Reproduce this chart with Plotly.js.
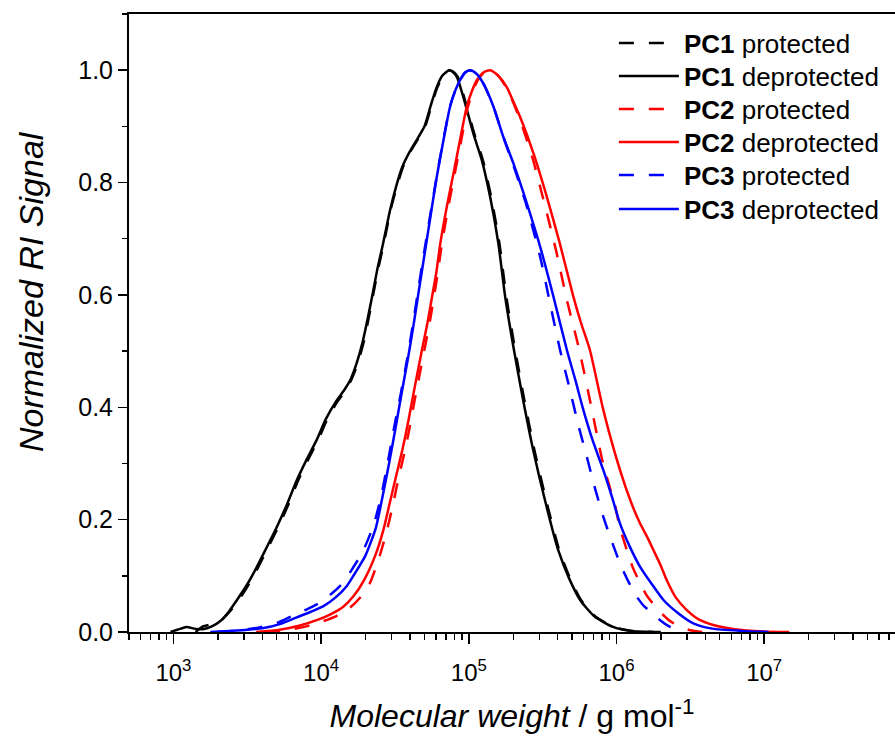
<!DOCTYPE html>
<html>
<head>
<meta charset="utf-8">
<script src="https://cdn.plot.ly/plotly-3.0.1.min.js"></script>
<style>html,body{margin:0;padding:0;background:#fff;overflow:hidden}#chart{width:895px;height:738px}</style>
</head>
<body>
<div id="chart"></div>
<script>
// log10 of molecular weight (g/mol) and normalized RI signal
const pc1DepLogM = [2.98,3.05,3.09,3.14,3.20,3.26,3.32,3.38,3.43,3.50,3.565,3.63,3.70,3.77,3.835,3.90,3.97,4.03,4.10,4.16,4.20,4.24,4.28,4.34,4.38,4.42,4.467,4.51,4.55,4.60,4.65,4.70,4.74,4.78,4.82,4.867,4.89,4.919,4.975,5.031,5.088,5.144,5.20,5.246,5.307,5.37,5.436,5.52,5.605,5.68,5.754,5.85,5.977,6.10,6.30];
const pc1DepY    = [0,0.006,0.009,0.006,0.005,0.010,0.020,0.038,0.057,0.085,0.116,0.150,0.187,0.228,0.270,0.306,0.342,0.378,0.410,0.432,0.450,0.478,0.515,0.590,0.645,0.692,0.751,0.795,0.828,0.855,0.877,0.900,0.935,0.968,0.990,1.0,0.997,0.988,0.941,0.887,0.840,0.775,0.692,0.597,0.500,0.410,0.324,0.230,0.146,0.095,0.057,0.028,0.009,0.002,0];

const pc1ProLogM = [3.15,3.20,3.26,3.32,3.38,3.44,3.51,3.575,3.64,3.71,3.78,3.845,3.91,3.98,4.04,4.11,4.17,4.21,4.25,4.29,4.345,4.385,4.425,4.47,4.515,4.555,4.605,4.655,4.705,4.745,4.785,4.825,4.87,4.895,4.925,4.98,5.037,5.095,5.151,5.207,5.254,5.315,5.378,5.444,5.528,5.612,5.687,5.76,5.855,5.98,6.10,6.25];
const pc1ProY    = [0,0.010,0.014,0.020,0.036,0.056,0.085,0.116,0.150,0.187,0.228,0.270,0.306,0.342,0.378,0.410,0.432,0.452,0.480,0.518,0.590,0.645,0.692,0.751,0.795,0.828,0.855,0.877,0.900,0.935,0.968,0.990,1.0,0.997,0.988,0.941,0.887,0.840,0.775,0.692,0.597,0.500,0.410,0.324,0.230,0.146,0.095,0.057,0.028,0.009,0.002,0];

const pc2DepLogM = [3.56,3.72,3.85,3.97,4.06,4.15,4.22,4.29,4.365,4.42,4.465,4.51,4.55,4.585,4.615,4.65,4.685,4.72,4.75,4.78,4.806,4.851,4.896,4.94,4.986,5.02,5.054,5.10,5.144,5.20,5.257,5.30,5.347,5.438,5.528,5.618,5.708,5.76,5.82,5.911,6.024,6.10,6.16,6.21,6.25,6.30,6.34,6.40,6.476,6.56,6.656,6.80,7.00,7.17];
const pc2DepY    = [0,0.004,0.011,0.021,0.031,0.045,0.064,0.092,0.135,0.180,0.230,0.280,0.324,0.368,0.410,0.458,0.505,0.550,0.595,0.640,0.690,0.757,0.816,0.875,0.935,0.962,0.982,0.996,1.0,0.990,0.970,0.945,0.917,0.852,0.775,0.690,0.597,0.550,0.502,0.395,0.288,0.230,0.193,0.168,0.146,0.118,0.0925,0.062,0.039,0.022,0.0125,0.005,0.001,0];

const pc2ProLogM = [3.62,3.78,3.90,4.01,4.10,4.19,4.26,4.33,4.39,4.44,4.485,4.525,4.565,4.60,4.63,4.665,4.70,4.733,4.762,4.79,4.816,4.86,4.904,4.947,4.992,5.025,5.058,5.10,5.144,5.20,5.257,5.30,5.347,5.43,5.51,5.59,5.665,5.75,5.83,5.90,5.934,5.99,6.024,6.11,6.205,6.295,6.36,6.43,6.50,6.58];
const pc2ProY    = [0,0.004,0.010,0.019,0.028,0.042,0.060,0.087,0.130,0.175,0.225,0.275,0.320,0.365,0.408,0.456,0.503,0.548,0.593,0.640,0.688,0.755,0.815,0.873,0.933,0.961,0.981,0.995,1.0,0.990,0.968,0.943,0.912,0.845,0.765,0.680,0.590,0.500,0.400,0.310,0.276,0.225,0.185,0.115,0.065,0.036,0.020,0.009,0.003,0];

const pc3DepLogM = [3.25,3.38,3.50,3.61,3.72,3.835,3.93,4.016,4.10,4.174,4.23,4.30,4.37,4.415,4.46,4.505,4.545,4.59,4.625,4.66,4.705,4.74,4.783,4.828,4.873,4.91,4.94,4.975,5.009,5.05,5.099,5.167,5.234,5.302,5.393,5.483,5.573,5.664,5.72,5.776,5.84,5.911,5.97,6.024,6.09,6.16,6.24,6.318,6.42,6.52,6.65,6.85,7.03];
const pc3DepY    = [0,0.002,0.004,0.007,0.014,0.026,0.036,0.046,0.062,0.082,0.105,0.136,0.185,0.240,0.300,0.365,0.425,0.490,0.545,0.605,0.680,0.739,0.810,0.875,0.935,0.965,0.982,0.996,1.0,0.994,0.976,0.935,0.881,0.834,0.763,0.686,0.597,0.502,0.450,0.395,0.340,0.288,0.240,0.193,0.152,0.116,0.085,0.057,0.033,0.0155,0.006,0.002,0];

const pc3ProLogM = [3.30,3.45,3.58,3.70,3.80,3.90,3.99,4.07,4.15,4.21,4.28,4.355,4.405,4.45,4.495,4.54,4.585,4.62,4.655,4.70,4.737,4.782,4.827,4.872,4.91,4.94,4.975,5.009,5.05,5.099,5.167,5.234,5.30,5.39,5.483,5.55,5.618,5.686,5.74,5.799,5.85,5.911,5.97,6.024,6.08,6.137,6.19,6.25,6.30,6.36,6.41,6.46];
const pc3ProY    = [0,0.003,0.008,0.016,0.028,0.040,0.052,0.068,0.088,0.112,0.142,0.190,0.240,0.300,0.365,0.425,0.490,0.545,0.605,0.680,0.739,0.810,0.875,0.935,0.965,0.982,0.996,1.0,0.994,0.976,0.935,0.881,0.832,0.760,0.668,0.585,0.502,0.430,0.370,0.312,0.260,0.205,0.160,0.122,0.090,0.063,0.045,0.033,0.020,0.0094,0.004,0];

const seriesNames = ['<b>PC1</b> protected','<b>PC1</b> deprotected','<b>PC2</b> protected','<b>PC2</b> deprotected','<b>PC3</b> protected','<b>PC3</b> deprotected'];
const xTickVals = [1e3,1e4,1e5,1e6,1e7];
const xTickText = ['10<sup>3</sup>','10<sup>4</sup>','10<sup>5</sup>','10<sup>6</sup>','10<sup>7</sup>'];
const yTickVals = [0,0.2,0.4,0.6,0.8,1.0];
const yTickText = ['0.0','0.2','0.4','0.6','0.8','1.0'];
const xTitle = '<i>Molecular weight</i> / g mol<sup>-1</sup>';
const yTitle = '<i>Normalized RI Signal</i>';

const toM = a => a.map(v => Math.pow(10, v));
const FONT = 'Liberation Sans, Arial, sans-serif';
const DASH = '15px,15px';

const defs = [
  [pc1ProLogM, pc1ProY, '#000000', DASH],
  [pc1DepLogM, pc1DepY, '#000000', 'solid'],
  [pc2ProLogM, pc2ProY, '#ff0000', DASH],
  [pc2DepLogM, pc2DepY, '#ff0000', 'solid'],
  [pc3ProLogM, pc3ProY, '#0000ff', DASH],
  [pc3DepLogM, pc3DepY, '#0000ff', 'solid']
];
const legendIds = ['legend','legend2','legend3','legend4','legend5','legend6'];
const traces = defs.map((d, i) => ({
  x: toM(d[0]), y: d[1], type: 'scatter', mode: 'lines', name: seriesNames[i],
  legend: legendIds[i],
  line: {color: d[2], width: 2.5, dash: d[3], shape: 'spline', smoothing: 0.6}
}));

const minorX = [];
for (let k = 2; k <= 7; k++) for (let m = 2; m <= 9; m++) minorX.push(m * Math.pow(10, k));

const plotTop = 14, plotBottom = 632;
const rowPx = [43, 76, 109, 142, 175, 209];

const layout = {
  width: 895, height: 738,
  margin: {l: 129, r: 0, t: plotTop, b: 738 - plotBottom},
  paper_bgcolor: '#fff', plot_bgcolor: '#fff',
  font: {family: FONT, color: '#000'},
  showlegend: true,
  xaxis: {
    type: 'log', range: [Math.log10(500), 7.886],
    tickmode: 'array', tickvals: xTickVals, ticktext: xTickText,
    ticks: 'outside', ticklen: 10, tickwidth: 1.5, tickcolor: '#000',
    ticklabelstandoff: 8,
    showline: true, linewidth: 2, linecolor: '#000', mirror: true,
    showgrid: false, zeroline: false,
    tickfont: {size: 24, family: FONT},
    minor: {tickmode: 'array', tickvals: minorX, ticks: 'outside', ticklen: 6, tickwidth: 1.5, tickcolor: '#000', showgrid: false},
    title: {text: xTitle, font: {size: 32, family: FONT}, standoff: 20}
  },
  yaxis: {
    range: [0, 1.1],
    tickmode: 'array', tickvals: yTickVals, ticktext: yTickText,
    ticks: 'outside', ticklen: 9, tickwidth: 1.5, tickcolor: '#000',
    showline: true, linewidth: 2, linecolor: '#000', mirror: false,
    showgrid: false, zeroline: false,
    tickfont: {size: 25, family: FONT},
    minor: {dtick: 0.1, ticks: 'outside', ticklen: 5, tickwidth: 1.5, tickcolor: '#000', showgrid: false}
  },
  annotations: [{
    text: yTitle, textangle: -90, showarrow: false,
    xref: 'paper', yref: 'paper', x: (31 - 129) / 766, y: (plotBottom - 292) / (plotBottom - plotTop),
    xanchor: 'center', yanchor: 'middle', font: {size: 34, family: FONT, color: '#000'}
  }]
};
legendIds.forEach((id, i) => {
  layout[id] = {
    x: 0.633, y: (plotBottom - rowPx[i]) / (plotBottom - plotTop), xanchor: 'left', yanchor: 'middle',
    bgcolor: 'rgba(0,0,0,0)', font: {size: 26, family: FONT, color: '#000'}, itemwidth: 60
  };
});

Plotly.newPlot('chart', traces, layout, {displayModeBar: false, staticPlot: true});
</script>
</body>
</html>
